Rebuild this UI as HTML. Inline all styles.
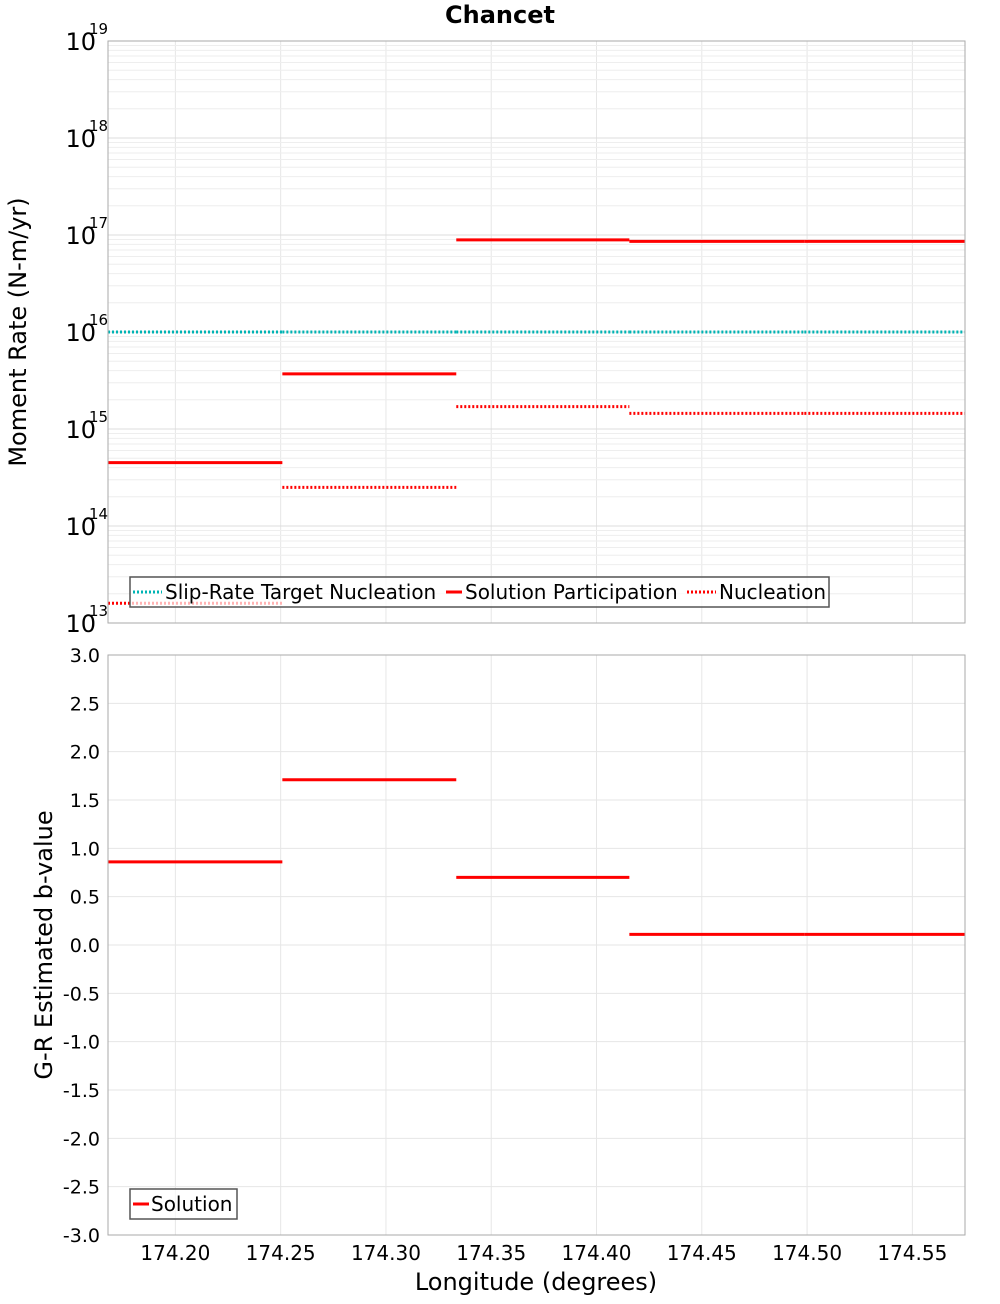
<!DOCTYPE html>
<html><head><meta charset="utf-8"><style>
body{margin:0;background:#fff;font-family:"DejaVu Sans","Liberation Sans",sans-serif;}
svg text{font-family:"DejaVu Sans","Liberation Sans",sans-serif;}
</style></head><body>
<svg id="chart" width="1000" height="1300" xmlns="http://www.w3.org/2000/svg">
<text x="500" y="23" text-anchor="middle" font-size="24" font-weight="bold">Chancet</text>
<g id="p1"></g>
<g id="p2"></g>
</svg>
<script>
const bounds = [174.168, 174.2508, 174.3334, 174.4156, 174.4987, 174.575];
const participation = [4.5e14, 3.7e15, 8.9e16, 8.6e16, 8.6e16];
const nucleation = [1.6e13, 2.5e14, 1.7e15, 1.45e15, 1.45e15];
const targetNucleation = [1e16, 1e16, 1e16, 1e16, 1e16];
const bValues = [0.86, 1.71, 0.70, 0.11, 0.11];
const xTicks = [174.20, 174.25, 174.30, 174.35, 174.40, 174.45, 174.50, 174.55];
const logTicks = [13, 14, 15, 16, 17, 18, 19];
const bTicks = [3.0, 2.5, 2.0, 1.5, 1.0, 0.5, 0.0, -0.5, -1.0, -1.5, -2.0, -2.5, -3.0];

const NS = "http://www.w3.org/2000/svg";
const L = 108, R = 965;
const T1 = 41, B1 = 623, T2 = 655, B2 = 1235;
const xMin = 174.168, xMax = 174.575;
const xs = v => L + (v - xMin) / (xMax - xMin) * (R - L);
const y1 = v => B1 - (Math.log10(v) - 13) / 6 * (B1 - T1);
const y2 = v => B2 - (v + 3) / 6 * (B2 - T2);

function mk(parent, tag, attrs, text) {
  const e = document.createElementNS(NS, tag);
  for (const k in attrs) e.setAttribute(k, attrs[k]);
  if (text !== undefined) e.textContent = text;
  parent.appendChild(e);
  return e;
}
const p1 = document.getElementById('p1');
const p2 = document.getElementById('p2');

[[p1, T1, B1], [p2, T2, B2]].forEach(([g, t, b]) => {
  xTicks.forEach(v => {
    const e = mk(g, 'line', {x1: xs(v), x2: xs(v), y1: t, y2: b, stroke: '#e6e6e6', 'stroke-width': 1});
    
    
  });
});
for (let d = 13; d < 19; d++) {
  for (let m = 1; m < 10; m++) {
    const y = y1(m * Math.pow(10, d));
    const e = mk(p1, 'line', {x1: L, x2: R, y1: y, y2: y, stroke: m === 1 ? '#dcdcdc' : '#eeeeee', 'stroke-width': 1});
    
    
  }
}
bTicks.forEach(v => {
  const e = mk(p2, 'line', {x1: L, x2: R, y1: y2(v), y2: y2(v), stroke: '#e6e6e6', 'stroke-width': 1});
  
  
});

logTicks.forEach(d => {
  const y = y1(Math.pow(10, d));
  const t = mk(p1, 'text', {x: 96, y: y + 9, 'text-anchor': 'end', 'font-size': 24}, '10');
  
  
  const s = mk(p1, 'text', {x: 89, y: y - 7, 'font-size': 15}, String(d));
  
  
});
bTicks.forEach(v => {
  const t = mk(p2, 'text', {x: 100, y: y2(v) + 7, 'text-anchor': 'end', 'font-size': 19}, v.toFixed(1));
  
  
});
xTicks.forEach(v => {
  const t = mk(p2, 'text', {x: xs(v), y: 1260, 'text-anchor': 'middle', 'font-size': 20}, v.toFixed(2));
  
  
});

function seg(g, vals, yf, attrs, name) {
  vals.forEach((v, i) => {
    const e = mk(g, 'line', Object.assign({x1: xs(bounds[i]), x2: xs(bounds[i + 1]), y1: yf(v), y2: yf(v)}, attrs));
    
    
  });
}
seg(p1, targetNucleation, y1, {stroke: '#00b4b4', 'stroke-width': 3, 'stroke-dasharray': '2,2'}, 'target-nucleation-segment');
seg(p1, participation, y1, {stroke: '#ff0000', 'stroke-width': 3}, 'participation-segment');
seg(p1, nucleation, y1, {stroke: '#ff0000', 'stroke-width': 3, 'stroke-dasharray': '2,2'}, 'nucleation-segment');
seg(p2, bValues, y2, {stroke: '#ff0000', 'stroke-width': 3}, 'b-value-segment');

[[p1, T1, B1], [p2, T2, B2]].forEach(([g, t, b]) => {
  const e = mk(g, 'rect', {x: L, y: t, width: R - L, height: b - t, fill: 'none', stroke: '#aaaaaa', 'stroke-width': 1});
  
  
});

const lg1 = mk(p1, 'g', {});


mk(lg1, 'rect', {x: 130, y: 577, width: 699, height: 30, fill: 'rgba(255,255,255,0.7)', stroke: '#555', 'stroke-width': 1.5});
const items = [
  [133, 165, 'Slip-Rate Target Nucleation', '#00b4b4', '2,2'],
  [446, 465, 'Solution Participation', '#ff0000', ''],
  [687, 719, 'Nucleation', '#ff0000', '2,2']
];
items.forEach(([x, tx, label, c, dash]) => {
  const ent = mk(lg1, 'g', {});
  
  
  const a = {x1: x, x2: tx - 3, y1: 592, y2: 592, stroke: c, 'stroke-width': 3};
  if (dash) a['stroke-dasharray'] = dash;
  mk(ent, 'line', a);
  mk(ent, 'text', {x: tx, y: 599, 'font-size': 20}, label);
});
const lg2 = mk(p2, 'g', {});


mk(lg2, 'rect', {x: 130, y: 1189, width: 107, height: 30, fill: 'rgba(255,255,255,0.7)', stroke: '#555', 'stroke-width': 1.5});
mk(lg2, 'line', {x1: 133, x2: 149, y1: 1204, y2: 1204, stroke: '#ff0000', 'stroke-width': 3});
mk(lg2, 'text', {x: 151, y: 1211, 'font-size': 20}, 'Solution');

const yt1 = mk(p1, 'text', {x: 0, y: 0, 'font-size': 24, 'text-anchor': 'middle', transform: 'translate(26,332) rotate(-90)'}, 'Moment Rate (N-m/yr)');


const yt2 = mk(p2, 'text', {x: 0, y: 0, 'font-size': 24, 'text-anchor': 'middle', transform: 'translate(52,945) rotate(-90)'}, 'G-R Estimated b-value');


const xt = mk(p2, 'text', {x: 536, y: 1290, 'font-size': 24, 'text-anchor': 'middle'}, 'Longitude (degrees)');


</script>
</body></html>
